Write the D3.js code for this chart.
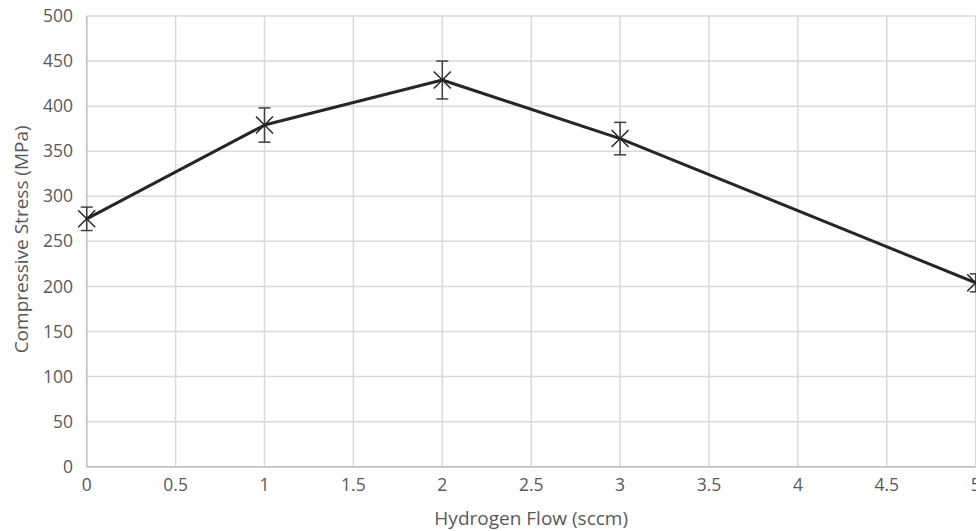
<!DOCTYPE html>
<html>
<head>
<meta charset="utf-8">
<script src="https://cdn.jsdelivr.net/npm/d3@7"></script>
<style>
  body { margin: 0; background: #fff; }
  svg { display: block; font-family: "Open Sans", "Liberation Sans", sans-serif; }
</style>
</head>
<body>
<svg id="chart" width="976" height="531"></svg>
<script>
// データ
var flow = [0, 1, 2, 3, 5];
var stress = [275, 379, 429, 364, 204];
var stressErr = [13, 19, 21, 18, 10];
var xTicks = [0, 0.5, 1, 1.5, 2, 2.5, 3, 3.5, 4, 4.5, 5];
var yTicks = [0, 50, 100, 150, 200, 250, 300, 350, 400, 450, 500];

var svg = d3.select("#chart");
var plotL = 86.7, plotR = 975.7, plotT = 16, plotB = 466.7;

var x = d3.scaleLinear().domain([0, 5]).range([plotL, plotR]);
var y = d3.scaleLinear().domain([0, 500]).range([plotB, plotT]);

// グリッド
var grid = svg.append("g");
grid.selectAll(".gx").data(xTicks).enter().append("line")
  .attr("x1", function(d){ return x(d); }).attr("x2", function(d){ return x(d); })
  .attr("y1", plotT).attr("y2", plotB)
  .attr("stroke", "#d9d9d9").attr("stroke-width", 1.5);
grid.selectAll(".gy").data(yTicks).enter().append("line")
  .attr("x1", plotL).attr("x2", plotR)
  .attr("y1", function(d){ return y(d); }).attr("y2", function(d){ return y(d); })
  .attr("stroke", "#d9d9d9").attr("stroke-width", 1.5);

// 軸線
svg.append("line").attr("x1", plotL).attr("x2", plotL).attr("y1", plotT).attr("y2", plotB)
  .attr("stroke", "#bfbfbf").attr("stroke-width", 1.5);
svg.append("line").attr("x1", plotL).attr("x2", plotR).attr("y1", plotB).attr("y2", plotB)
  .attr("stroke", "#bfbfbf").attr("stroke-width", 1.5);

// 目盛りラベル
svg.append("g").selectAll("text").data(yTicks).enter().append("text")
  .attr("x", 73).attr("y", function(d){ return y(d); })
  .attr("dy", ".35em").attr("text-anchor", "end")
  .attr("font-size", "17.5px").attr("fill", "#595959")
  .text(function(d){ return d; });
svg.append("g").selectAll("text").data(xTicks).enter().append("text")
  .attr("x", function(d){ return x(d); }).attr("y", 485)
  .attr("dy", ".35em").attr("text-anchor", "middle")
  .attr("font-size", "17.5px").attr("fill", "#595959")
  .text(function(d){ return d; });

// 軸タイトル
svg.append("text").attr("x", (plotL + plotR) / 2).attr("y", 518)
  .attr("dy", ".35em").attr("text-anchor", "middle")
  .attr("font-size", "19px").attr("fill", "#595959")
  .text("Hydrogen Flow (sccm)");
svg.append("text").attr("transform", "translate(21," + ((plotT + plotB) / 2 - 2) + ") rotate(-90)")
  .attr("dy", ".35em").attr("text-anchor", "middle")
  .attr("font-size", "19px").attr("fill", "#595959")
  .text("Compressive Stress (MPa)");

var pts = flow.map(function(d, i){ return {x: d, y: stress[i], e: stressErr[i]}; });

// 誤差棒
var eb = svg.append("g").attr("stroke", "#404040").attr("stroke-width", 1.5);
pts.forEach(function(p){
  var cx = x(p.x);
  eb.append("line").attr("x1", cx).attr("x2", cx).attr("y1", y(p.y + p.e)).attr("y2", y(p.y - p.e));
  eb.append("line").attr("x1", cx - 6).attr("x2", cx + 6).attr("y1", y(p.y + p.e)).attr("y2", y(p.y + p.e));
  eb.append("line").attr("x1", cx - 6).attr("x2", cx + 6).attr("y1", y(p.y - p.e)).attr("y2", y(p.y - p.e));
});

// 折れ線
var line = d3.line().x(function(d){ return x(d.x); }).y(function(d){ return y(d.y); });
svg.append("path").datum(pts).attr("d", line)
  .attr("fill", "none").attr("stroke", "#262626").attr("stroke-width", 3).attr("stroke-linejoin", "round");

// マーカー (×)
var m = 8.5;
svg.append("g").selectAll("path").data(pts).enter().append("path")
  .attr("d", function(d){
    var cx = x(d.x), cy = y(d.y);
    return "M" + (cx - m) + "," + (cy - m) + "L" + (cx + m) + "," + (cy + m) +
           "M" + (cx - m) + "," + (cy + m) + "L" + (cx + m) + "," + (cy - m);
  })
  .attr("stroke", "#262626").attr("stroke-width", 1.5).attr("fill", "none");
</script>
</body>
</html>
